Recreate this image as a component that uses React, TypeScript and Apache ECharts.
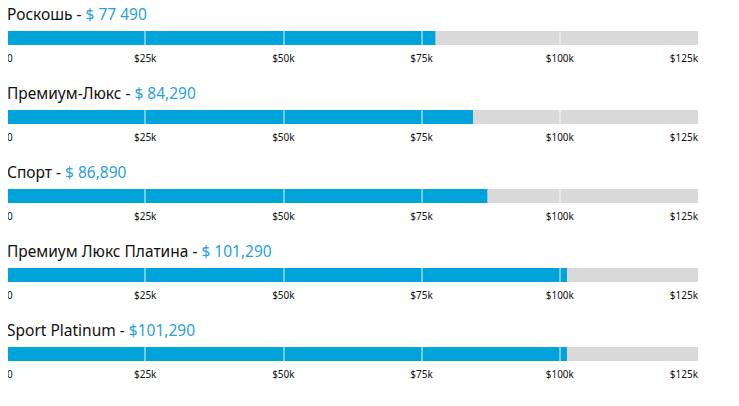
import React, { useEffect, useRef } from "react";
import * as echarts from "echarts";

const trims = ["Роскошь", "Премиум-Люкс", "Спорт", "Премиум Люкс Платина", "Sport Platinum"];
const priceLabels = ["$ 77 490", "$ 84,290", "$ 86,890", "$ 101,290", "$101,290"];
const prices = [77490, 84290, 86890, 101290, 101290];
const axisMax = 125000;
const axisStep = 25000;
const gridMarks = [25000, 50000, 75000, 100000];

const FONT = "'Noto Sans', sans-serif";
const BLUE = "#00a3da";
const GREY = "#d9d9d9";

export default function App() {
  const ref = useRef<HTMLDivElement>(null);
  useEffect(() => {
    if (!ref.current) return;
    const chart = echarts.init(ref.current, undefined, { renderer: "svg" });
    const rowStep = 79;
    const barTop = 31;
    const barH = 14;
    const titles: any[] = [];
    const grids: any[] = [];
    const xAxes: any[] = [];
    const yAxes: any[] = [];
    const series: any[] = [];
    trims.forEach((t, i) => {
      titles.push({
        left: 7,
        top: barTop - 27 + i * rowStep,
        padding: [0, 0, 0, 0],
        text: `{a|${t} - }{b|${priceLabels[i]}}`,
        textStyle: {
          lineHeight: 20,
          rich: {
            a: { fontFamily: FONT, fontSize: 15.5, lineHeight: 20, color: "#111", fontWeight: "normal" },
            b: { fontFamily: FONT, fontSize: 15.5, lineHeight: 20, color: "#2a9fd9", fontWeight: "normal" },
          },
        },
      });
      grids.push({ left: 7, right: 41, top: barTop + i * rowStep, height: barH });
      xAxes.push({
        type: "value",
        gridIndex: i,
        min: 0,
        max: axisMax,
        interval: axisStep,
        axisLine: { show: false },
        axisTick: { show: false },
        splitLine: { show: false },
        axisLabel: {
          margin: 8,
          fontFamily: FONT,
          fontSize: 10,
          color: "#111",
          alignMinLabel: "left",
          alignMaxLabel: "right",
          formatter: (v: number) => (v === 0 ? "0" : "$" + v / 1000 + "k"),
        },
      });
      yAxes.push({
        type: "category",
        gridIndex: i,
        data: [t],
        show: false,
      });
      series.push({
        type: "bar",
        xAxisIndex: i,
        yAxisIndex: i,
        data: [prices[i]],
        barWidth: "100%",
        showBackground: true,
        backgroundStyle: { color: GREY },
        itemStyle: { color: BLUE },
        silent: true,
        markLine: {
          silent: true,
          symbol: "none",
          label: { show: false },
          lineStyle: { color: "rgba(255,255,255,0.45)", width: 2, type: "solid" },
          data: gridMarks.map((m) => ({ xAxis: m })),
        },
      });
    });
    chart.setOption({
      animation: false,
      title: titles,
      grid: grids,
      xAxis: xAxes,
      yAxis: yAxes,
      series,
    });
    return () => chart.dispose();
  }, []);
  return <div ref={ref} style={{ width: 739, height: 406, margin: -8 }} />;
}
